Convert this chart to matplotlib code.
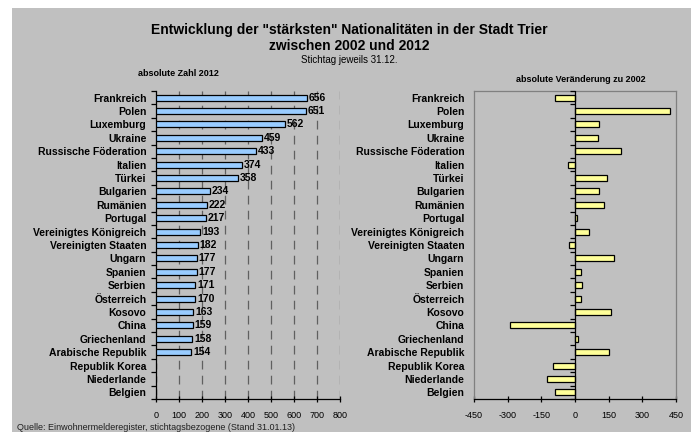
import numpy as np
import matplotlib
matplotlib.use("Agg")
import matplotlib.pyplot as plt
from matplotlib.patches import Rectangle
from matplotlib.lines import TICKLEFT

plt.rcParams['font.family'] = ['Liberation Sans', 'DejaVu Sans']

countries = ["Frankreich", "Polen", "Luxemburg", "Ukraine", "Russische Föderation",
             "Italien", "Türkei", "Bulgarien", "Rumänien", "Portugal",
             "Vereinigtes Königreich", "Vereinigten Staaten", "Ungarn", "Spanien",
             "Serbien", "Österreich", "Kosovo", "China", "Griechenland",
             "Arabische Republik", "Republik Korea", "Niederlande", "Belgien"]
abs2012 = [656, 651, 562, 459, 433, 374, 358, 234, 222, 217, 193, 182, 177, 177,
           171, 170, 163, 159, 158, 154, None, None, None]
change = [-87, 424, 109, 103, 204, -31, 144, 106, 128, 10, 62, -25, 175, 25,
          32, 25, 160, -290, 15, 153, -100, -125, -90]
left_ticks = [0, 100, 200, 300, 400, 500, 600, 700, 800]
right_ticks = [-450, -300, -150, 0, 150, 300, 450]

cats = countries
n = len(cats)
ypos = np.arange(n)

W, H = 698, 432
fig = plt.figure(figsize=(W / 100, H / 100), dpi=100, facecolor='white')
bg = Rectangle((12 / W, 0), (691 - 12) / W, (H - 8) / H,
               transform=fig.transFigure, facecolor='#C0C0C0',
               edgecolor='none', zorder=-10)
fig.patches.append(bg)

def fx(px):
    return px / W

def fy(py):
    return 1 - py / H

top, bottom = 91, 399
# ---------- left chart ----------
axl = fig.add_axes([fx(156), fy(bottom), fx(340) - fx(156), (bottom - top) / H])
axl.set_facecolor('none')
vals_l = [v if v is not None else 0 for v in abs2012]
axl.barh(ypos, vals_l, height=0.45, color='#99CCFF', edgecolor='black', linewidth=0.9, zorder=3)
for y, v in zip(ypos, abs2012):
    if v is not None:
        axl.text(v + 8, y, str(v), va='center', ha='left', fontsize=7.5,
                 fontweight='bold', zorder=4)
axl.set_xlim(0, 800)
axl.set_ylim(n - 0.5, -0.5)
axl.set_xticks(left_ticks)
axl.set_xticklabels([str(t) for t in left_ticks], fontsize=6.5)
for t in left_ticks[1:]:
    axl.axvline(t, color='#606060', lw=0.9, ls=(0, (7, 5)), zorder=1)
axl.set_yticks(ypos)
axl.set_yticklabels(cats, fontsize=7.5, fontweight='bold')
axl.tick_params(axis='y', length=0, pad=7)
axl.set_yticks(np.arange(-0.5, n), minor=True)
axl.tick_params(axis='y', which='minor', length=3.5, width=0.9, direction='out')
axl.tick_params(axis='x', length=5, width=0.9, direction='inout', pad=6)
for s in ['top', 'right']:
    axl.spines[s].set_visible(False)
for s in ['left', 'bottom']:
    axl.spines[s].set_linewidth(0.9)

# ---------- right chart ----------
axr = fig.add_axes([fx(474), fy(bottom), fx(676) - fx(474), (bottom - top) / H])
axr.set_facecolor('none')
axr.barh(ypos, change, height=0.45, color='#FFFF99', edgecolor='black', linewidth=0.9, zorder=3)
axr.set_xlim(-450, 450)
axr.set_ylim(n - 0.5, -0.5)
axr.axvline(0, color='black', lw=0.9, zorder=4)
axr.plot(np.zeros(n + 1), np.arange(-0.5, n), ls='none', marker=TICKLEFT,
         ms=3.5, mew=0.9, color='black', zorder=4, clip_on=False)
axr.set_xticks(right_ticks)
axr.set_xticklabels([str(t) for t in right_ticks], fontsize=6.5)
axr.set_yticks(ypos)
axr.set_yticklabels(cats, fontsize=7.5, fontweight='bold')
axr.tick_params(axis='y', length=0, pad=7)
axr.tick_params(axis='x', length=5, width=0.9, direction='inout', pad=6)
for s in ['top', 'right', 'left']:
    axr.spines[s].set_color('#808080')
    axr.spines[s].set_linewidth(0.9)
axr.spines['bottom'].set_color('black')
axr.spines['bottom'].set_linewidth(0.9)

# ---------- texts ----------
fig.text(fx(349), fy(30), 'Entwicklung der "stärksten" Nationalitäten in der Stadt Trier',
         ha='center', va='center', fontsize=10, fontweight='bold')
fig.text(fx(349), fy(46), 'zwischen 2002 und 2012', ha='center', va='center',
         fontsize=10, fontweight='bold')
fig.text(fx(349), fy(60), 'Stichtag jeweils 31.12.', ha='center', va='center', fontsize=7)
fig.text(fx(138), fy(73), 'absolute Zahl 2012', ha='left', va='center',
         fontsize=6.5, fontweight='bold')
fig.text(fx(581), fy(79), 'absolute Veränderung zu 2002', ha='center', va='center',
         fontsize=6.5, fontweight='bold')
fig.text(fx(17), fy(427), 'Quelle: Einwohnermelderegister, stichtagsbezogene (Stand 31.01.13)',
         ha='left', va='center', fontsize=6.5, color='#202020')

fig.savefig('out.png', dpi=100, facecolor=fig.get_facecolor())
